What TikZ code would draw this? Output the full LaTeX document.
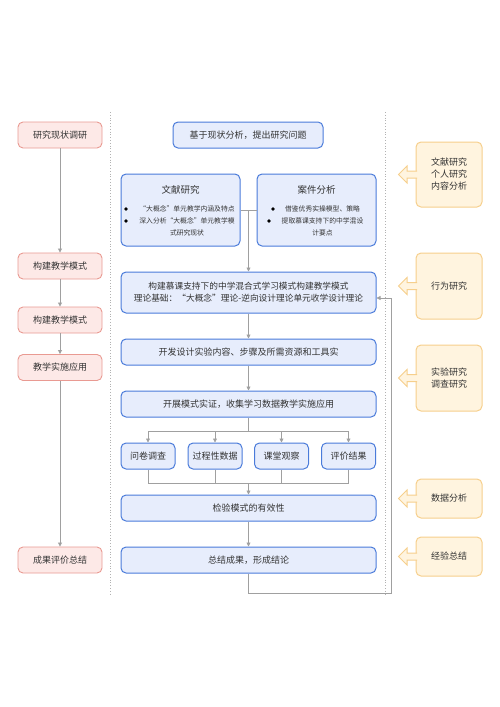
\documentclass[tikz,border=0pt]{standalone}
\usepackage{fontspec}
\setmainfont{Noto Sans CJK SC}
\usetikzlibrary{arrows.meta, positioning, calc}
\definecolor{pinkfill}{HTML}{FDE9E7}
\definecolor{pinkline}{HTML}{E99A92}
\definecolor{bluefill}{HTML}{E7EDFC}
\definecolor{blueline}{HTML}{4A7BDA}
\definecolor{yelfill}{HTML}{FFF4DF}
\definecolor{yelline}{HTML}{F6CF8C}
\definecolor{linegray}{HTML}{A0A0A0}
\definecolor{inkgray}{HTML}{333333}
\tikzset{%
	basebox/.style={
		rounded corners=5pt,
		inner sep=0pt,
		align=center,
		text=inkgray,
		font=\fontsize{9}{12}\selectfont
	},
	stage/.style={basebox, draw=pinkline, fill=pinkfill, line width=0.9pt,
		minimum width=84pt, minimum height=26pt},
	task/.style={basebox, draw=blueline, fill=bluefill, line width=1pt,
		minimum width=255pt, minimum height=26pt},
	method/.style={basebox, draw=yelline, fill=yelfill, line width=1pt,
		minimum width=66pt},
	title/.style={text=inkgray, font=\fontsize{9.5}{12}\selectfont},
	note/.style={align=center, text=inkgray, inner sep=0pt,
		font=\fontsize{6.8}{12}\selectfont},
	dot/.style={circle, fill=black, inner sep=0pt, minimum size=3.6pt},
	line/.style={draw=linegray, line width=0.8pt},
	flow/.style={line, -{Triangle[length=4pt,width=4pt]}},
	divider/.style={draw=black!30, dotted, line width=0.8pt},
	callout/.style={draw=yelline, fill=yelfill, line width=1pt},
}
\begin{document}
\begin{tikzpicture}[x=1pt,y=-1pt]
			\useasboundingbox (0,0) rectangle (500,707);
			
			% Dividers
			\draw[divider] (110,112) -- (110,595);
			\draw[divider] (385,112) -- (385,595);
			
			% Left column: stages
			\node[stage] (p1) at (60,135) {研究现状调研};
			\node[stage] (p2) at (60,266) {构建教学模式};
			\node[stage] (p3) at (60,320) {构建教学模式};
			\node[stage] (p4) at (60,367.5) {教学实施应用};
			\node[stage] (p5) at (60,560) {成果评价总结};
			\draw[flow] (p1) -- (p2);
			\draw[flow] (p2) -- (p3);
			\draw[flow] (p3) -- (p4);
			\draw[flow] (p4) -- (p5);
			
			% Middle column: tasks
			\node[task, minimum width=150pt] (ask) at (248,135) {基于现状分析，提出研究问题};
			
			\node[task, minimum width=119pt, minimum height=72pt] (lit) at (180.5,210) {};
			\node[title] (litT) at (180.5,190) {文献研究};
			\node[dot] (litB1) at (126,209) {};
			\node[dot] (litB2) at (126,221) {};
			\node[note] (litN) at (187,221) {“大概念”单元教学内涵及特点\\深入分析“大概念”单元教学模\\式研究现状};
			
			\node[task, minimum width=119pt, minimum height=72pt] (case) at (316.5,210) {};
			\node[title] (caseT) at (316.5,190) {案件分析};
			\node[dot] (caseB1) at (273,209) {};
			\node[dot] (caseB2) at (269,221) {};
			\node[note] (caseN) at (322.5,221) {借鉴优秀实操模型、策略\\提取慕课支持下的中学混设\\计要点};
			
			\node[task, minimum height=41pt, font=\fontsize{8.7}{12}\selectfont] (build) at (248.5,292.5) {构建慕课支持下的中学混合式学习模式构建教学模式\\理论基础：“大概念”理论-逆向设计理论单元收学设计理论};
			\node[task] (dev) at (248.5,352) {开发设计实验内容、步骤及所需资源和工具实};
			\node[task] (run) at (248.5,404) {开展模式实证，收集学习数据教学实施应用};
			
			\node[task, minimum width=54pt] (s1) at (148,456) {问卷调查};
			\node[task, minimum width=54pt] (s2) at (215,456) {过程性数据};
			\node[task, minimum width=54pt] (s3) at (281.5,456) {课堂观察};
			\node[task, minimum width=54pt] (s4) at (348.5,456) {评价结果};
			
			\node[task] (check) at (248.5,508) {检验模式的有效性};
			\node[task] (sum) at (248.5,560) {总结成果，形成结论};
			
			% Connectors
			\draw[line] (lit.east) -- (case.west);
			\draw[flow] (lit.east -| build.north) -- (build.north);
			\draw[flow] (build) -- (dev);
			\draw[flow] (dev) -- (run);
			
			\coordinate (fork) at (248.5,431);
			\coordinate (join) at (248.5,483);
			\draw[line] (run) -- (fork);
			\draw[line] (fork -| s1) -- (fork -| s4);
			\foreach \s in {s1,s2,s3,s4} {
				\draw[flow] (fork -| \s) -- (\s);
				\draw[line] (\s) -- (join -| \s);
			}
			\draw[line] (join -| s1) -- (join -| s4);
			\draw[flow] (join) -- (check);
			\draw[flow] (check) -- (sum);
			
			% Feedback loop
			\coordinate (loopA) at (248.5,593);
			\coordinate (loopB) at (391,593);
			\draw[flow] (sum) -- (loopA) -- (loopB) |- ([yshift=-5.5pt]build.east);
			
			% Right column: methods
			\node[method, minimum height=65pt] (y1) at (449,174.5) {文献研究\\个人研究\\内容分析};
			\node[method, minimum height=66pt] (y2) at (449,286) {行为研究};
			\node[method, minimum height=66pt] (y3) at (449,378) {实验研究\\调查研究};
			\node[method, minimum height=39pt] (y4) at (449,498.5) {数据分析};
			\node[method, minimum height=39pt] (y5) at (449,556.5) {经验总结};
			\foreach \n in {y1,y2,y3,y4,y5}
				\filldraw[callout] ($(\n.west)+(1.5,-3.5)$) -- ++(-10,0) -- ++(0,-5)
					-- ++(-8.5,8.5) -- ++(8.5,8.5) -- ++(0,-5) -- ++(10,0);

		\end{tikzpicture}
\end{document}
